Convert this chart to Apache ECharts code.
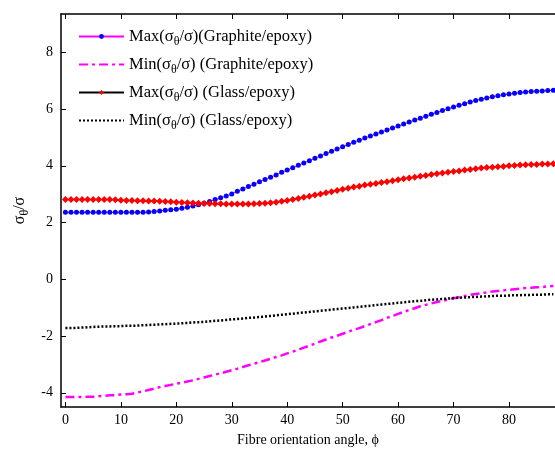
<!DOCTYPE html>
<html>
<head>
<meta charset="utf-8">
<script src="https://cdn.jsdelivr.net/npm/echarts@6/dist/echarts.min.js"></script>
<style>
  html, body { margin: 0; padding: 0; background: #fff; }
  #chart { width: 555px; height: 452px; }
</style>
</head>
<body>
<div id="chart"></div>
<script>
// fibre angle (deg)
const angles = [0,1,2,3,4,5,6,7,8,9,10,11,12,13,14,15,16,17,18,19,20,21,22,23,24,25,26,27,28,29,
  30,31,32,33,34,35,36,37,38,39,40,41,42,43,44,45,46,47,48,49,50,51,52,53,54,55,56,57,58,59,
  60,61,62,63,64,65,66,67,68,69,70,71,72,73,74,75,76,77,78,79,80,81,82,83,84,85,86,87,88];

const maxGraphite = [2.36,2.36,2.36,2.36,2.36,2.36,2.36,2.36,2.36,2.36,2.36,2.36,2.36,2.36,2.36,
  2.37,2.39,2.41,2.43,2.45,2.47,2.50,2.54,2.58,2.63,2.68,2.74,2.81,2.87,2.94,
  3.01,3.10,3.18,3.27,3.35,3.44,3.52,3.60,3.68,3.77,3.85,3.93,4.02,4.10,4.18,
  4.27,4.35,4.43,4.51,4.59,4.67,4.75,4.83,4.90,4.98,5.05,5.12,5.19,5.26,5.33,
  5.40,5.47,5.54,5.61,5.68,5.75,5.82,5.88,5.95,6.01,6.07,6.13,6.19,6.25,6.30,
  6.35,6.39,6.43,6.47,6.50,6.53,6.56,6.58,6.60,6.62,6.63,6.64,6.65,6.66];

const minGraphite = [-4.15,-4.15,-4.15,-4.15,-4.14,-4.14,-4.12,-4.11,-4.09,-4.08,-4.06,-4.05,-4.03,-3.99,-3.95,
  -3.90,-3.85,-3.80,-3.76,-3.72,-3.68,-3.64,-3.60,-3.56,-3.51,-3.46,-3.41,-3.36,-3.31,-3.26,
  -3.20,-3.15,-3.09,-3.03,-2.97,-2.92,-2.86,-2.80,-2.74,-2.68,-2.61,-2.55,-2.48,-2.41,-2.34,
  -2.27,-2.19,-2.12,-2.05,-1.99,-1.92,-1.85,-1.78,-1.72,-1.65,-1.58,-1.51,-1.44,-1.36,-1.29,
  -1.22,-1.15,-1.08,-1.02,-0.95,-0.90,-0.85,-0.80,-0.76,-0.71,-0.67,-0.63,-0.59,-0.55,-0.52,
  -0.49,-0.46,-0.43,-0.41,-0.39,-0.37,-0.35,-0.33,-0.31,-0.30,-0.28,-0.27,-0.25,-0.24];

const maxGlass = [2.81,2.81,2.81,2.81,2.81,2.81,2.81,2.81,2.81,2.80,2.79,2.78,2.78,2.77,2.77,
  2.76,2.76,2.75,2.74,2.73,2.72,2.71,2.70,2.69,2.68,2.67,2.67,2.66,2.66,2.65,
  2.65,2.65,2.65,2.65,2.66,2.67,2.68,2.70,2.72,2.75,2.78,2.81,2.85,2.89,2.93,
  2.97,3.01,3.05,3.09,3.13,3.17,3.21,3.25,3.28,3.32,3.35,3.38,3.41,3.44,3.47,
  3.51,3.54,3.57,3.60,3.63,3.66,3.69,3.72,3.75,3.77,3.80,3.82,3.85,3.87,3.90,
  3.92,3.94,3.95,3.97,3.98,4.00,4.01,4.03,4.04,4.05,4.05,4.06,4.06,4.07];

const minGlass = [-1.72,-1.72,-1.71,-1.70,-1.69,-1.68,-1.67,-1.66,-1.66,-1.65,-1.65,-1.64,-1.64,-1.63,-1.62,
  -1.61,-1.60,-1.59,-1.58,-1.57,-1.56,-1.55,-1.54,-1.52,-1.51,-1.50,-1.48,-1.46,-1.45,-1.43,
  -1.41,-1.40,-1.38,-1.36,-1.35,-1.33,-1.31,-1.29,-1.27,-1.25,-1.23,-1.21,-1.19,-1.17,-1.15,
  -1.13,-1.11,-1.09,-1.07,-1.05,-1.03,-1.01,-0.99,-0.97,-0.95,-0.93,-0.91,-0.89,-0.87,-0.85,
  -0.83,-0.81,-0.79,-0.77,-0.76,-0.74,-0.72,-0.71,-0.69,-0.68,-0.66,-0.65,-0.64,-0.63,-0.62,
  -0.61,-0.60,-0.59,-0.58,-0.58,-0.57,-0.56,-0.56,-0.55,-0.55,-0.54,-0.54,-0.53,-0.53];

const xTicks = [0, 10, 20, 30, 40, 50, 60, 70, 80];
const yTicks = [-4, -2, 0, 2, 4, 6, 8];

const names = [
  'Max(σ{sub|θ}/σ)(Graphite/epoxy)',
  'Min(σ{sub|θ}/σ) (Graphite/epoxy)',
  'Max(σ{sub|θ}/σ) (Glass/epoxy)',
  'Min(σ{sub|θ}/σ) (Glass/epoxy)'
];

const serif = 'Liberation Serif, Times New Roman, serif';
const legendSub = { sub: { fontSize: 12, fontFamily: serif, color: '#000', padding: [10, 0, 0, 0] } };
const nameSub = { sub: { fontSize: 12, fontFamily: serif, color: '#000', padding: [10, 0, 0, 0] } };

function pairs(vals) {
  return angles.map((a, i) => [a, vals[i]]);
}

// one legend per entry, so the rows sit where they do in the figure
const legendTops = [28, 56, 84, 112];
const hasMarker = [true, false, true, false];
const legends = names.map((n, i) => ({
  data: [n],
  left: 78,
  top: legendTops[i],
  padding: 0,
  itemWidth: 45,
  itemHeight: 6,
  itemStyle: hasMarker[i] ? {} : { opacity: 0 },
  textStyle: { fontFamily: serif, fontSize: 16.5, color: '#000', rich: legendSub }
}));

const chart = echarts.init(document.getElementById('chart'));
chart.setOption({
  animation: false,
  backgroundColor: '#fff',
  grid: { left: 61, right: 0, top: 14, bottom: 43 },
  legend: legends,
  xAxis: [{
    type: 'value',
    min: -0.8,
    max: 88.3,
    name: 'Fibre orientation angle, ϕ',
    nameLocation: 'middle',
    nameGap: 26,
    nameTextStyle: { fontFamily: serif, fontSize: 14, color: '#000' },
    axisLine: { onZero: false, lineStyle: { color: '#000', width: 1.5 } },
    axisTick: { inside: true, length: 5, customValues: xTicks, lineStyle: { color: '#000' } },
    axisLabel: { customValues: xTicks, fontFamily: serif, fontSize: 14, color: '#000', margin: 6 },
    splitLine: { show: false }
  }, {
    type: 'value',
    position: 'top',
    min: -0.8,
    max: 88.3,
    axisLine: { onZero: false, lineStyle: { color: '#000', width: 1.5 } },
    axisTick: { inside: true, length: 5, customValues: xTicks, lineStyle: { color: '#000' } },
    axisLabel: { show: false },
    splitLine: { show: false }
  }],
  yAxis: {
    type: 'value',
    min: -4.5,
    max: 9.35,
    name: 'σ{sub|θ}/σ',
    nameLocation: 'middle',
    nameRotate: 90,
    nameGap: 27,
    nameTextStyle: { fontFamily: serif, fontSize: 16, color: '#000', rich: nameSub },
    axisLine: { onZero: false, lineStyle: { color: '#000', width: 1.5 } },
    axisTick: { inside: true, length: 5, customValues: yTicks, lineStyle: { color: '#000' } },
    axisLabel: { customValues: yTicks, fontFamily: serif, fontSize: 14, color: '#000', margin: 8 },
    splitLine: { show: false }
  },
  series: [
    {
      name: names[0], type: 'line', data: pairs(maxGraphite),
      symbol: 'circle', symbolSize: 5, showAllSymbol: true,
      lineStyle: { color: '#ff00ff', width: 1 },
      itemStyle: { color: '#0000ff' }
    },
    {
      name: names[1], type: 'line', data: pairs(minGraphite),
      symbol: 'none',
      lineStyle: { color: '#ff00ff', width: 2.5, type: [9, 4, 3, 4] },
      itemStyle: { color: '#ff00ff' }
    },
    {
      name: names[2], type: 'line', data: pairs(maxGlass),
      symbol: 'diamond', symbolSize: 7, showAllSymbol: true,
      lineStyle: { color: '#000', width: 1 },
      itemStyle: { color: '#ff0000' }
    },
    {
      name: names[3], type: 'line', data: pairs(minGlass),
      symbol: 'none',
      lineStyle: { color: '#000', width: 2.5, type: [2, 2] },
      itemStyle: { color: '#000' }
    }
  ]
});
</script>
</body>
</html>
